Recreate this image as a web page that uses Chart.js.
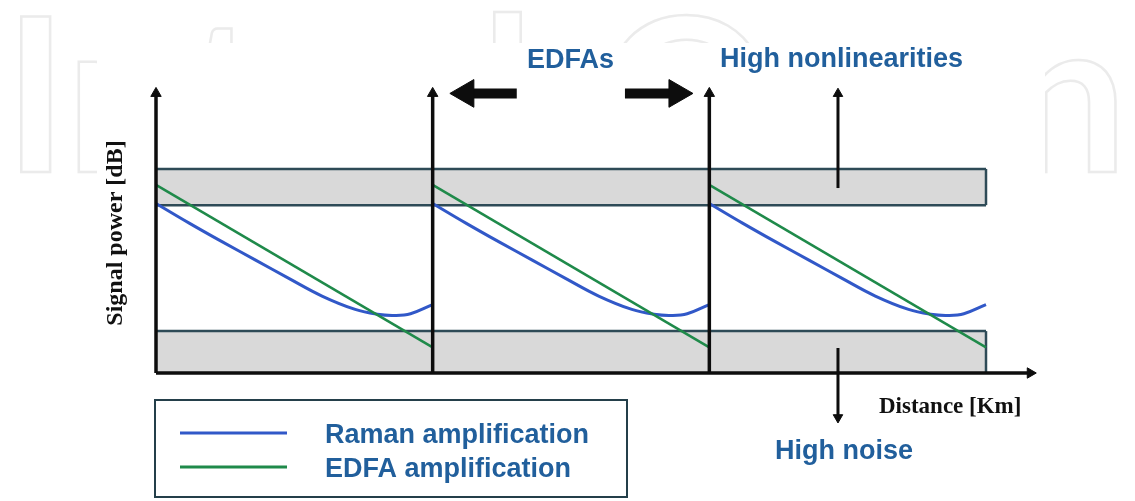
<!DOCTYPE html>
<html><head><meta charset="utf-8">
<script src="https://cdn.jsdelivr.net/npm/chart.js@4.4.1/dist/chart.umd.min.js"></script>
<style>html,body{margin:0;padding:0;background:#fff;overflow:hidden}#wrap{width:1135px;height:501px;position:relative}</style>
</head><body><div id="wrap"><canvas id="c" width="1135" height="501"></canvas></div>
<script>
// ---- data (schematic units: distance 0..300, 3 spans of 100; power 0..100) ----
const spanStarts = [0, 100, 200];
const ramanX = [0, 12, 24, 36, 48, 60, 72, 80, 86, 92, 100];
const ramanY = [59.5, 52.6, 46.0, 39.6, 33.2, 27.0, 22.3, 20.6, 20.2, 20.8, 24.0];
const edfaX = [0, 100];
const edfaY = [66.0, 9.0];
const highBand = [58.9, 71.6];   // high nonlinearities band (bottom, top)
const lowBand = [0, 14.7];       // high noise band (bottom, top)
const bandEnd = 300;
const axisTop = 98.1;
const axisEnd = 316;
const nonlinArrow = {x: 246.5, from: 64.9, to: 98.0};
const noiseArrow = {x: 246.5, from: 8.8, to: -15.6};
const edfaArrowY = 98.1;
const edfaLeft = {tail: 130.4, head: 112};
const edfaRight = {tail: 169.5, head: 188.3};
const seriesNames = ['Raman amplification', 'EDFA amplification'];

const BLUE = '#3158c8', GREEN = '#1f8a4a', AXIS = '#0d0d0d', BANDLINE = '#2e4b57', BANDFILL = '#d9d9d9';
const TEXTBLUE = '#215f9c';

const pts = (xs, ys, off) => xs.map((x, i) => ({x: x + off, y: ys[i]}));
const seg = (a, b) => [a, b];

const datasets = [];
// bands
datasets.push({data: seg({x:0,y:highBand[1]},{x:bandEnd,y:highBand[1]}), borderColor: BANDLINE, borderWidth: 2.5,
  backgroundColor: BANDFILL, fill: {value: highBand[0]}, pointRadius: 0, order: 10});
datasets.push({data: seg({x:0,y:highBand[0]},{x:bandEnd,y:highBand[0]}), borderColor: BANDLINE, borderWidth: 2.5, fill: false, pointRadius: 0, order: 9});
datasets.push({data: seg({x:bandEnd,y:highBand[0]},{x:bandEnd,y:highBand[1]}), borderColor: BANDLINE, borderWidth: 2.5, fill: false, pointRadius: 0, order: 9});
datasets.push({data: seg({x:0,y:lowBand[1]},{x:bandEnd,y:lowBand[1]}), borderColor: BANDLINE, borderWidth: 2.5,
  backgroundColor: BANDFILL, fill: {value: lowBand[0]}, pointRadius: 0, order: 10});
datasets.push({data: seg({x:bandEnd,y:lowBand[0]},{x:bandEnd,y:lowBand[1]}), borderColor: BANDLINE, borderWidth: 2.5, fill: false, pointRadius: 0, order: 9});
// curves
spanStarts.forEach(s => {
  datasets.push({label: seriesNames[0], data: pts(ramanX, ramanY, s), borderColor: BLUE, borderWidth: 3, tension: 0.4, pointRadius: 0, fill: false, order: 5});
  datasets.push({label: seriesNames[1], data: pts(edfaX, edfaY, s), borderColor: GREEN, borderWidth: 2.5, tension: 0, pointRadius: 0, fill: false, order: 4});
});
// axes / arrows
const arrow = (a, b, rot, r, w) => ({data: [a, b], borderColor: AXIS, borderWidth: w, fill: false, tension: 0,
  pointRadius: [0, r], pointStyle: 'triangle', pointRotation: rot, pointBackgroundColor: AXIS, pointBorderColor: AXIS,
  pointBorderWidth: 1, borderCapStyle: 'butt', order: 1});
spanStarts.forEach(s => datasets.push(arrow({x:s,y:0},{x:s,y:axisTop}, 0, 6, 3.5)));
datasets.push(arrow({x:0,y:0},{x:axisEnd,y:0}, 90, 6, 3.5));
datasets.push(arrow({x:nonlinArrow.x,y:nonlinArrow.from},{x:nonlinArrow.x,y:nonlinArrow.to}, 0, 5.5, 3));
datasets.push(arrow({x:noiseArrow.x,y:noiseArrow.from},{x:noiseArrow.x,y:noiseArrow.to}, 180, 5.5, 3));
datasets.push(arrow({x:edfaLeft.tail,y:edfaArrowY},{x:edfaLeft.head,y:edfaArrowY}, 270, 16, 10));
datasets.push(arrow({x:edfaRight.tail,y:edfaArrowY},{x:edfaRight.head,y:edfaArrowY}, 90, 16, 10));
datasets.forEach(d => { d.clip = false; });

const decor = {
  id: 'decor',
  beforeDraw(chart) {
    const ctx = chart.ctx;
    ctx.save();
    ctx.fillStyle = '#fff';
    ctx.fillRect(0, 0, chart.width, chart.height);
    // faint watermark
    ctx.strokeStyle = '#ebebeb';
    ctx.lineWidth = 2.5;
    ctx.font = 'bold 214px Lato';
    ctx.textBaseline = 'alphabetic';
    ctx.textAlign = 'left';
    ctx.strokeText('IntechOpen', 4, 172);
    ctx.fillStyle = '#fff';
    ctx.fillRect(97, 43, 948, 470);
    ctx.restore();
  },
  afterDraw(chart) {
    const ctx = chart.ctx;
    ctx.save();
    ctx.fillStyle = TEXTBLUE;
    ctx.font = 'bold 27px "Liberation Sans", Arial, sans-serif';
    ctx.textBaseline = 'alphabetic';
    ctx.textAlign = 'left';
    ctx.fillText('EDFAs', 527, 68);
    ctx.fillText('High nonlinearities', 720, 67);
    ctx.fillText('High noise', 775, 459);
    // axis titles
    ctx.fillStyle = '#111';
    ctx.font = 'bold 23px "Liberation Serif", "Times New Roman", serif';
    ctx.fillText('Distance [Km]', 879, 413);
    ctx.save();
    ctx.translate(122, 233);
    ctx.rotate(-Math.PI / 2);
    ctx.textAlign = 'center';
    ctx.font = 'bold 24px "Liberation Serif", "Times New Roman", serif';
    ctx.fillText('Signal power [dB]', 0, 0);
    ctx.restore();
    // legend box
    ctx.strokeStyle = '#243f4a';
    ctx.lineWidth = 2;
    ctx.strokeRect(155, 400, 472, 97);
    const items = [[BLUE, 3, seriesNames[0], 433], [GREEN, 3, seriesNames[1], 467]];
    items.forEach(([c, w, t, y]) => {
      ctx.strokeStyle = c; ctx.lineWidth = w;
      ctx.beginPath(); ctx.moveTo(180, y); ctx.lineTo(287, y); ctx.stroke();
      ctx.fillStyle = TEXTBLUE;
      ctx.font = 'bold 27px "Liberation Sans", Arial, sans-serif';
      ctx.fillText(t, 325, y + 10);
    });
    ctx.restore();
  }
};

new Chart(document.getElementById('c'), {
  type: 'line',
  data: {datasets},
  options: {
    responsive: false, animation: false, devicePixelRatio: 1,
    layout: {padding: {left: 156, right: 66, top: 88, bottom: 71}},
    scales: {
      x: {type: 'linear', min: 0, max: 330, display: false},
      y: {type: 'linear', min: -20, max: 100, display: false}
    },
    plugins: {legend: {display: false}, tooltip: {enabled: false}},
    events: []
  },
  plugins: [decor]
});
</script></body></html>
